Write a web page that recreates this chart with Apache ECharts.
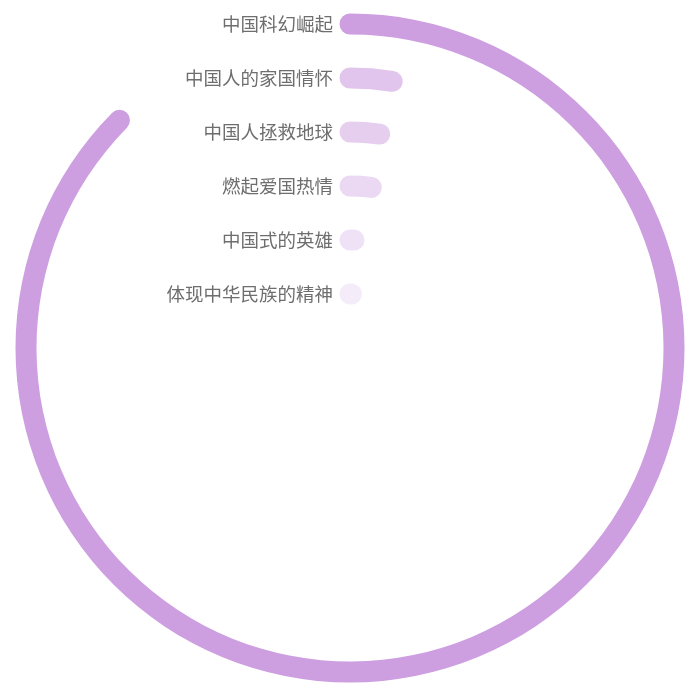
<!DOCTYPE html>
<html>
<head>
<meta charset="utf-8">
<script src="https://cdn.jsdelivr.net/npm/echarts@6/dist/echarts.min.js"></script>
<style>
  html, body { margin: 0; padding: 0; background: #fff; }
  #main { width: 700px; height: 696px; }
</style>
</head>
<body>
<div id="main"></div>
<script>
// 分类（由外到内）
const categories = ['中国科幻崛起', '中国人的家国情怀', '中国人拯救地球', '燃起爱国热情', '中国式的英雄', '体现中华民族的精神']
// 占比（%）
const values = [87.4, 2.5, 2.2, 2.1, 0.6, 0.45]

// 每一圈的透明度
const ringOpacity = [1, 0.6, 0.5, 0.4, 0.3, 0.2]
const baseColor = '205, 158, 224'

const myChart = echarts.init(document.getElementById('main'))

const option = {
  polar: {
    center: ['50%', '50%'],
    radius: [27, 351]
  },
  angleAxis: {
    type: 'value',
    min: 0,
    max: 100,
    startAngle: 90,
    clockwise: true,
    show: false
  },
  radiusAxis: {
    type: 'category',
    data: categories,
    inverse: true,
    axisLine: { show: false },
    axisTick: { show: false },
    splitLine: { show: false },
    axisLabel: {
      interval: 0,
      hideOverlap: false,
      color: '#6e6e6e',
      fontSize: 18.5,
      fontFamily: 'Noto Sans CJK SC',
      margin: 17
    }
  },
  series: [
    {
      type: 'bar',
      coordinateSystem: 'polar',
      data: values,
      barWidth: 21,
      roundCap: true,
      itemStyle: {
        color: function (params) {
          return 'rgba(' + baseColor + ',' + ringOpacity[params.dataIndex] + ')'
        }
      }
    }
  ]
}

myChart.setOption(option)
</script>
</body>
</html>
